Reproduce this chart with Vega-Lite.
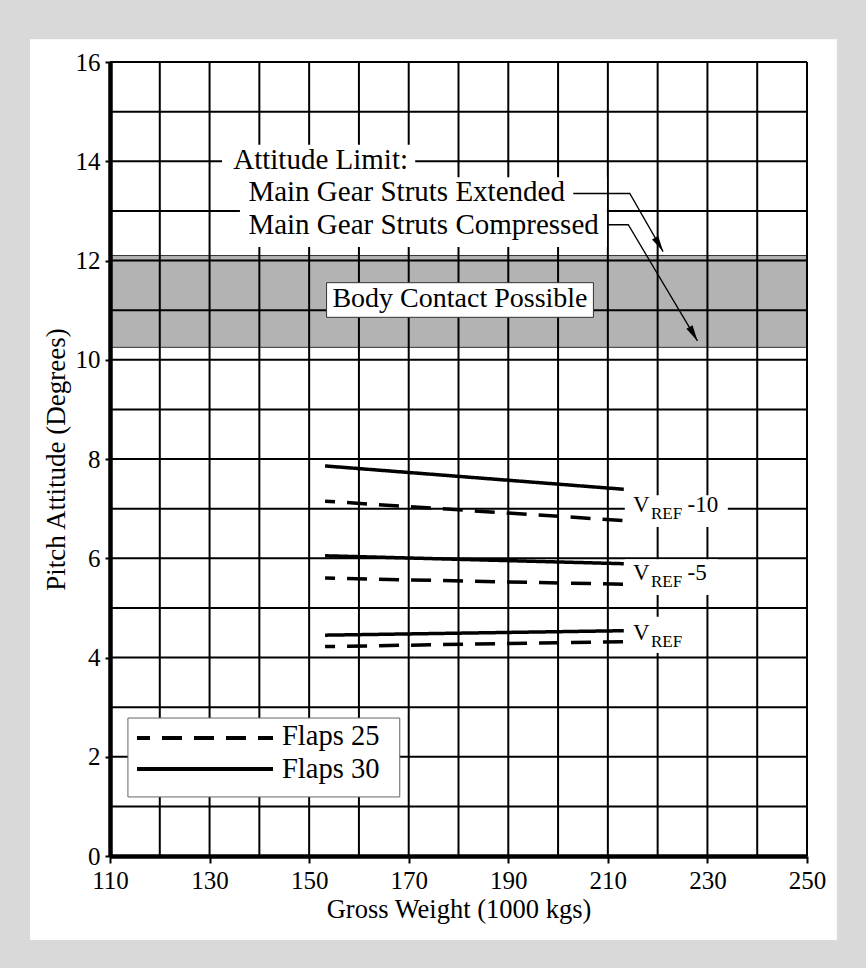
{
  "$schema": "https://vega.github.io/schema/vega-lite/v6.json",
  "width": 697,
  "height": 794,
  "autosize": {"type": "none"},
  "padding": {"left": 110, "top": 62, "right": 59, "bottom": 112},
  "background": "white",
  "config": {"view": {"stroke": null}, "font": "Liberation Serif"},
  "datasets": {
    "frame": [
      {"side":"top","x1":87.0,"x2":263.0,"y1":16.46,"y2":17.4},
      {"side":"bottom","x1":87.0,"x2":263.0,"y1":-2.4,"y2":-1.693},
      {"side":"left","x1":87.0,"x2":93.93,"y1":-2.4,"y2":17.4},
      {"side":"right","x1":256.0,"x2":263.0,"y1":-2.4,"y2":17.4}
    ],
    "gridx": [{"v":110},{"v":120},{"v":130},{"v":140},{"v":150},{"v":160},{"v":170},{"v":180},{"v":190},{"v":200},{"v":210},{"v":220},{"v":230},{"v":240},{"v":250}],
    "gridy": [{"v":0},{"v":1},{"v":2},{"v":3},{"v":4},{"v":5},{"v":6},{"v":7},{"v":8},{"v":9},{"v":10},{"v":11},{"v":12},{"v":13},{"v":14},{"v":15},{"v":16}],
    "band": [{"zone":"Body Contact Possible","lo":10.25,"hi":12.1}],
    "masks": [
      {"id":"attitude","x1":132.5,"x2":171.3,"y1":13.5,"y2":14.33},
      {"id":"struts","x1":136.1,"x2":209.8,"y1":12.27,"y2":13.68},
      {"id":"vref-10","x1":213.4,"x2":234.1,"y1":6.63,"y2":7.27},
      {"id":"vref-5","x1":213.4,"x2":232.1,"y1":5.26,"y2":5.98},
      {"id":"vref","x1":213.4,"x2":226.5,"y1":4.09,"y2":4.82}
    ],
    "bodybox": [{"t":"Body Contact Possible","x1":153.5,"x2":207.1,"y1":10.855,"y2":11.553,"w":180.3,"p":11.07}],
    "legendbox": [{"x1":113.6,"x2":168.2,"y1":1.19,"y2":2.78}],
    "legendlines": [
      {"flaps":"Flaps 25","w":115.42,"p":2.378},
      {"flaps":"Flaps 25","w":142.74,"p":2.378},
      {"flaps":"Flaps 30","w":115.42,"p":1.753},
      {"flaps":"Flaps 30","w":142.74,"p":1.753}
    ],
    "legendtext": [
      {"t":"Flaps 25","w":144.55,"p":2.237},
      {"t":"Flaps 30","w":144.55,"p":1.566}
    ],
    "curves": [
      {"speed":"VREF -10","flaps":"Flaps 30","w":153.2,"p":7.86},
      {"speed":"VREF -10","flaps":"Flaps 30","w":213.2,"p":7.39},
      {"speed":"VREF -10","flaps":"Flaps 25","w":153.2,"p":7.15},
      {"speed":"VREF -10","flaps":"Flaps 25","w":213.2,"p":6.76},
      {"speed":"VREF -5","flaps":"Flaps 30","w":153.2,"p":6.05},
      {"speed":"VREF -5","flaps":"Flaps 30","w":213.2,"p":5.89},
      {"speed":"VREF -5","flaps":"Flaps 25","w":153.2,"p":5.6},
      {"speed":"VREF -5","flaps":"Flaps 25","w":213.2,"p":5.475},
      {"speed":"VREF","flaps":"Flaps 30","w":153.2,"p":4.45},
      {"speed":"VREF","flaps":"Flaps 30","w":213.2,"p":4.54},
      {"speed":"VREF","flaps":"Flaps 25","w":153.2,"p":4.22},
      {"speed":"VREF","flaps":"Flaps 25","w":213.2,"p":4.32}
    ],
    "leaders": [
      {"g":"Extended","o":1,"w":203.05,"p":13.35},
      {"g":"Extended","o":2,"w":214.4,"p":13.35},
      {"g":"Extended","o":3,"w":221.1,"p":12.18},
      {"g":"Compressed","o":1,"w":210.1,"p":12.72},
      {"g":"Compressed","o":2,"w":214.1,"p":12.72},
      {"g":"Compressed","o":3,"w":228.0,"p":10.38}
    ],
    "tips": [
      {"g":"Extended","w":221.1,"p":12.18},
      {"g":"Compressed","w":228.0,"p":10.38}
    ],
    "notes": [
      {"t":"Attitude Limit:","w":134.75,"p":13.84},
      {"t":"Main Gear Struts Extended","w":137.8,"p":13.19},
      {"t":"Main Gear Struts Compressed","w":137.8,"p":12.53}
    ],
    "vmain": [
      {"t":"V","w":215.04,"p":6.93},
      {"t":"V","w":215.04,"p":5.56},
      {"t":"V","w":215.04,"p":4.35}
    ],
    "vsub": [
      {"t":"REF","w":218.66,"p":6.79},
      {"t":"REF","w":218.66,"p":5.42},
      {"t":"REF","w":218.66,"p":4.21}
    ],
    "vsuf": [
      {"t":"-10","w":226.0,"p":6.93},
      {"t":"-5","w":226.0,"p":5.56}
    ]
  },
  "layer": [
    {
      "data": {"name": "frame"},
      "mark": {"type": "rect", "fill": "#d9d9d9", "stroke": null},
      "encoding": {
        "x": {"field": "x1", "type": "quantitative", "scale": {"domain": [110, 250], "nice": false, "zero": false}},
        "x2": {"field": "x2"},
        "y": {"field": "y1", "type": "quantitative", "scale": {"domain": [0, 16], "nice": false, "zero": false}},
        "y2": {"field": "y2"}
      }
    },
    {
      "data": {"name": "band"},
      "mark": {"type": "rect", "fill": "#b3b3b3", "stroke": "#333333", "strokeWidth": 1},
      "encoding": {
        "x": {"datum": 110, "type": "quantitative", "scale": {"domain": [110, 250], "nice": false, "zero": false}},
        "x2": {"datum": 250},
        "y": {"field": "lo", "type": "quantitative", "scale": {"domain": [0, 16], "nice": false, "zero": false}},
        "y2": {"field": "hi"}
      }
    },
    {
      "data": {"name": "gridx"},
      "mark": {"type": "rule", "color": "black", "strokeWidth": 2},
      "encoding": {
        "x": {"field": "v", "type": "quantitative", "scale": {"domain": [110, 250], "nice": false, "zero": false},
          "axis": {"title": "Gross Weight (1000 kgs)", "values": [110,130,150,170,190,210,230,250], "format": "d", "grid": false,
            "domainColor": "black", "domainWidth": 4.5, "tickColor": "black", "tickWidth": 2, "tickSize": 7,
            "labelFont": "Liberation Serif", "labelFontSize": 25, "labelColor": "black", "labelPadding": 5, "labelFlush": false, "labelOverlap": false,
            "titleFont": "Liberation Serif", "titleFontSize": 26.5, "titleFontWeight": "normal", "titleColor": "black", "titlePadding": 3, "zindex": 1}}
      }
    },
    {
      "data": {"name": "gridy"},
      "mark": {"type": "rule", "color": "black", "strokeWidth": 2},
      "encoding": {
        "y": {"field": "v", "type": "quantitative", "scale": {"domain": [0, 16], "nice": false, "zero": false},
          "axis": {"title": "Pitch Attitude (Degrees)", "values": [0,2,4,6,8,10,12,14,16], "format": "d", "grid": false,
            "domainColor": "black", "domainWidth": 4.5, "tickColor": "black", "tickWidth": 2, "tickSize": 5,
            "labelFont": "Liberation Serif", "labelFontSize": 25, "labelColor": "black", "labelPadding": 5, "labelOverlap": false, "labelFlush": false,
            "titleFont": "Liberation Serif", "titleFontSize": 27, "titleFontWeight": "normal", "titleColor": "black", "titlePadding": 5, "zindex": 1}}
      }
    },
    {
      "data": {"name": "masks"},
      "mark": {"type": "rect", "fill": "white", "stroke": null},
      "encoding": {
        "x": {"field": "x1", "type": "quantitative", "scale": {"domain": [110, 250], "nice": false, "zero": false}},
        "x2": {"field": "x2"},
        "y": {"field": "y1", "type": "quantitative", "scale": {"domain": [0, 16], "nice": false, "zero": false}},
        "y2": {"field": "y2"}
      }
    },
    {
      "data": {"name": "bodybox"},
      "mark": {"type": "rect", "fill": "white", "stroke": "#333333", "strokeWidth": 1},
      "encoding": {
        "x": {"field": "x1", "type": "quantitative", "scale": {"domain": [110, 250], "nice": false, "zero": false}},
        "x2": {"field": "x2"},
        "y": {"field": "y1", "type": "quantitative", "scale": {"domain": [0, 16], "nice": false, "zero": false}},
        "y2": {"field": "y2"}
      }
    },
    {
      "data": {"name": "legendbox"},
      "mark": {"type": "rect", "fill": "white", "stroke": "#666666", "strokeWidth": 1},
      "encoding": {
        "x": {"field": "x1", "type": "quantitative", "scale": {"domain": [110, 250], "nice": false, "zero": false}},
        "x2": {"field": "x2"},
        "y": {"field": "y1", "type": "quantitative", "scale": {"domain": [0, 16], "nice": false, "zero": false}},
        "y2": {"field": "y2"}
      }
    },
    {
      "data": {"name": "legendlines"},
      "mark": {"type": "line", "color": "black", "strokeWidth": 4, "strokeDashOffset": 7, "strokeCap": "butt"},
      "encoding": {
        "x": {"field": "w", "type": "quantitative", "scale": {"domain": [110, 250], "nice": false, "zero": false}},
        "y": {"field": "p", "type": "quantitative", "scale": {"domain": [0, 16], "nice": false, "zero": false}},
        "strokeDash": {"field": "flaps", "type": "nominal", "scale": {"domain": ["Flaps 25", "Flaps 30"], "range": [[20, 12], [1, 0]]}, "legend": null}
      }
    },
    {
      "data": {"name": "legendtext"},
      "mark": {"type": "text", "align": "left", "baseline": "alphabetic", "font": "Liberation Serif", "fontSize": 28.5, "color": "black"},
      "encoding": {
        "x": {"field": "w", "type": "quantitative", "scale": {"domain": [110, 250], "nice": false, "zero": false}},
        "y": {"field": "p", "type": "quantitative", "scale": {"domain": [0, 16], "nice": false, "zero": false}},
        "text": {"field": "t"}
      }
    },
    {
      "data": {"name": "curves"},
      "mark": {"type": "line", "color": "black", "strokeWidth": 3.5, "strokeDashOffset": 10, "strokeCap": "butt"},
      "encoding": {
        "x": {"field": "w", "type": "quantitative", "scale": {"domain": [110, 250], "nice": false, "zero": false}},
        "y": {"field": "p", "type": "quantitative", "scale": {"domain": [0, 16], "nice": false, "zero": false}},
        "detail": {"field": "speed"},
        "strokeDash": {"field": "flaps", "type": "nominal", "scale": {"domain": ["Flaps 25", "Flaps 30"], "range": [[20, 12], [1, 0]]}, "legend": null}
      }
    },
    {
      "data": {"name": "leaders"},
      "mark": {"type": "line", "color": "black", "strokeWidth": 1.3},
      "encoding": {
        "x": {"field": "w", "type": "quantitative", "scale": {"domain": [110, 250], "nice": false, "zero": false}},
        "y": {"field": "p", "type": "quantitative", "scale": {"domain": [0, 16], "nice": false, "zero": false}},
        "detail": {"field": "g"},
        "order": {"field": "o"}
      }
    },
    {
      "data": {"name": "tips"},
      "mark": {"type": "point", "shape": "M0,0L-0.45,-2L0.45,-2Z", "size": 256, "filled": true, "color": "black", "opacity": 1, "angle": 330},
      "encoding": {
        "x": {"field": "w", "type": "quantitative", "scale": {"domain": [110, 250], "nice": false, "zero": false}},
        "y": {"field": "p", "type": "quantitative", "scale": {"domain": [0, 16], "nice": false, "zero": false}}
      }
    },
    {
      "data": {"name": "notes"},
      "mark": {"type": "text", "align": "left", "baseline": "alphabetic", "font": "Liberation Serif", "fontSize": 29, "color": "black"},
      "encoding": {
        "x": {"field": "w", "type": "quantitative", "scale": {"domain": [110, 250], "nice": false, "zero": false}},
        "y": {"field": "p", "type": "quantitative", "scale": {"domain": [0, 16], "nice": false, "zero": false}},
        "text": {"field": "t"}
      }
    },
    {
      "data": {"name": "bodybox"},
      "mark": {"type": "text", "align": "center", "baseline": "alphabetic", "font": "Liberation Serif", "fontSize": 28, "color": "black"},
      "encoding": {
        "x": {"field": "w", "type": "quantitative", "scale": {"domain": [110, 250], "nice": false, "zero": false}},
        "y": {"field": "p", "type": "quantitative", "scale": {"domain": [0, 16], "nice": false, "zero": false}},
        "text": {"field": "t"}
      }
    },
    {
      "data": {"name": "vmain"},
      "mark": {"type": "text", "align": "left", "baseline": "alphabetic", "font": "Liberation Serif", "fontSize": 23, "color": "black"},
      "encoding": {
        "x": {"field": "w", "type": "quantitative", "scale": {"domain": [110, 250], "nice": false, "zero": false}},
        "y": {"field": "p", "type": "quantitative", "scale": {"domain": [0, 16], "nice": false, "zero": false}},
        "text": {"field": "t"}
      }
    },
    {
      "data": {"name": "vsub"},
      "mark": {"type": "text", "align": "left", "baseline": "alphabetic", "font": "Liberation Serif", "fontSize": 17, "color": "black"},
      "encoding": {
        "x": {"field": "w", "type": "quantitative", "scale": {"domain": [110, 250], "nice": false, "zero": false}},
        "y": {"field": "p", "type": "quantitative", "scale": {"domain": [0, 16], "nice": false, "zero": false}},
        "text": {"field": "t"}
      }
    },
    {
      "data": {"name": "vsuf"},
      "mark": {"type": "text", "align": "left", "baseline": "alphabetic", "font": "Liberation Serif", "fontSize": 23, "color": "black"},
      "encoding": {
        "x": {"field": "w", "type": "quantitative", "scale": {"domain": [110, 250], "nice": false, "zero": false}},
        "y": {"field": "p", "type": "quantitative", "scale": {"domain": [0, 16], "nice": false, "zero": false}},
        "text": {"field": "t"}
      }
    }
  ]
}
